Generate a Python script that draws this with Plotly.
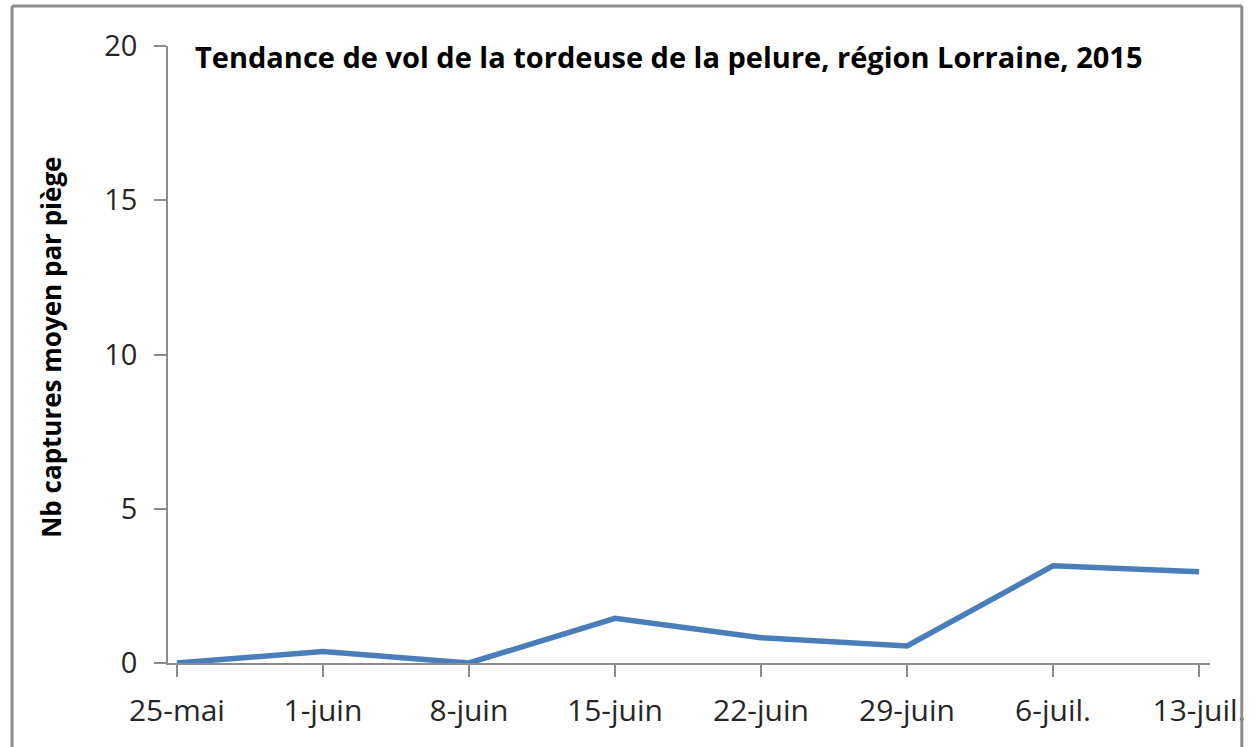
import plotly.graph_objects as go

categories = ["25-mai", "1-juin", "8-juin", "15-juin", "22-juin", "29-juin", "6-juil.", "13-juil."]
captures = [0, 0.37, 0, 1.45, 0.82, 0.55, 3.15, 2.96]
y_ticks = [0, 5, 10, 15, 20]

W, H = 1257, 747
# target screen positions of plot area
X0, X1, Y0, Y1 = 168, 1217, 46, 663
L, R, T, B = X0, W - X1, Y0, H - Y1
pw, ph = X1 - X0, Y1 - Y0

def px(x):
    return (x - X0) / pw

def py(y):
    return (Y1 - y) / ph

FONT = "Open Sans"
idx = list(range(len(categories)))

fig = go.Figure()
fig.add_trace(go.Scatter(
    x=idx, y=captures, mode="lines",
    line=dict(color="#4A7EBB", width=5.5),
    hoverinfo="skip", showlegend=False,
))

fig.update_layout(
    width=W, height=H,
    margin=dict(l=L, r=R, t=T, b=B),
    paper_bgcolor="white", plot_bgcolor="white",
    font=dict(family=FONT, color="#262626"),
    xaxis=dict(
        range=[-0.061, 7.075],
        tickmode="array", tickvals=idx, ticktext=categories,
        showgrid=False, zeroline=False,
        showline=True, linecolor="#8c8c8c", linewidth=1.5,
        ticks="outside", ticklen=12, tickcolor="#8c8c8c", tickwidth=1.5,
        ticklabelstandoff=8,
        tickfont=dict(size=30, family=FONT, color="#262626"),
    ),
    yaxis=dict(
        range=[0, 20],
        tickmode="array", tickvals=y_ticks,
        showgrid=False, zeroline=False,
        showline=True, linecolor="#8c8c8c", linewidth=1.5,
        ticks="outside", ticklen=12, tickcolor="#8c8c8c", tickwidth=1.5,
        ticklabelstandoff=11,
        tickfont=dict(size=29, family=FONT, color="#262626"),
    ),
    annotations=[
        dict(text="<b>Tendance de vol de la tordeuse de la pelure, région Lorraine, 2015</b>",
             xref="paper", yref="paper", x=px(193), y=py(57), xanchor="left", yanchor="middle",
             showarrow=False, font=dict(size=29, family=FONT, color="black")),
        dict(text="<b>Nb captures moyen par piège</b>",
             xref="paper", yref="paper", x=px(50), y=py(347), xanchor="center", yanchor="middle",
             textangle=-90, showarrow=False, font=dict(size=26, family=FONT, color="black")),
    ],
    shapes=[
        dict(type="line", xref="paper", yref="paper", x0=px(11), x1=px(1249), y0=py(6), y1=py(6),
             line=dict(color="#8c8c8c", width=3)),
        dict(type="line", xref="paper", yref="paper", x0=px(11), x1=px(11), y0=py(6), y1=py(760),
             line=dict(color="#8c8c8c", width=3)),
        dict(type="line", xref="paper", yref="paper", x0=px(1249), x1=px(1249), y0=py(6), y1=py(760),
             line=dict(color="#8c8c8c", width=3)),
    ],
)

fig.write_html("out.html", config={"displayModeBar": False},
               post_script="document.body.style.margin='0';document.body.style.overflow='hidden';")
